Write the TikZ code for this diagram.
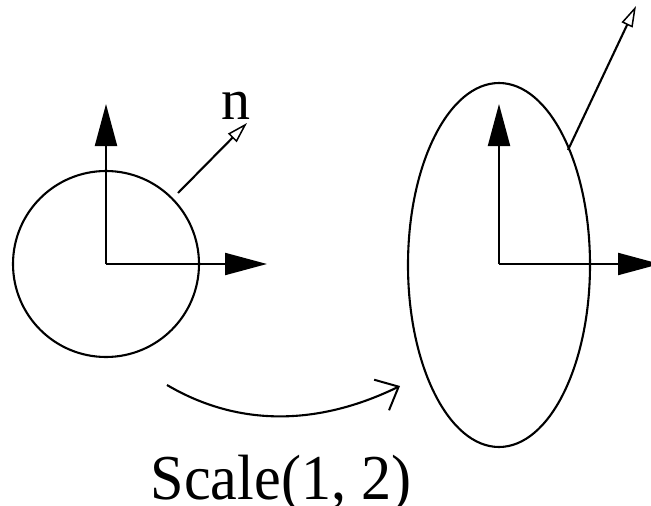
\documentclass[tikz,border=0pt]{standalone}
\usepackage{fontspec}
\setmainfont{Liberation Serif}
\usetikzlibrary{arrows.meta,shapes.geometric}
\begin{document}
\begin{tikzpicture}[x=1pt,y=-1pt,line width=2.1pt,
  axis/.style={-{Triangle[length=42pt,width=22pt]}},
  normal/.style={-{Triangle[open,length=21pt,width=12pt,line width=1.5pt]}},
  curvarr/.style={-{Straight Barb[length=19pt,width=34pt,line width=2pt]}},
  lbl/.style={inner sep=0pt,font=\fontsize{58}{58}\selectfont}]
\useasboundingbox (0,0) rectangle (651,506);
\clip (0,0) rectangle (651,506);
% left: circle
\node[draw,circle,minimum size=186pt,inner sep=0pt] (c) at (106,264) {};
\coordinate (co) at (106,264);
\coordinate (cy) at (106,104);
\coordinate (cx) at (267,264);
\draw[axis] (co) -- (cy);
\draw[axis] (co) -- (cx);
\coordinate (cn1) at (178,193);
\coordinate (cn2) at (247,123);
\draw[normal] (cn1) -- (cn2);
\node[lbl,anchor=base] (n) at (236,119) {n};
% right: ellipse
\node[draw,ellipse,minimum width=182pt,minimum height=364pt,inner sep=0pt] (e) at (499,265) {};
\coordinate (eo) at (499,264);
\coordinate (ey) at (499,104);
\coordinate (ex) at (660,264);
\draw[axis] (eo) -- (ey);
\draw[axis] (eo) -- (ex);
\coordinate (en1) at (568,150);
\coordinate (en2) at (636,6);
\draw[normal] (en1) -- (en2);
% curved arrow
\coordinate (a1) at (167,385);
\coordinate (a2) at (400,386);
\draw[curvarr] (a1) .. controls (240,428) and (320,425) .. (a2);
\node[inner sep=0pt,anchor=base,xscale=0.94,font=\fontsize{64}{64}\selectfont] (s) at (281,499) {Scale(1, 2)};
\end{tikzpicture}
\end{document}
